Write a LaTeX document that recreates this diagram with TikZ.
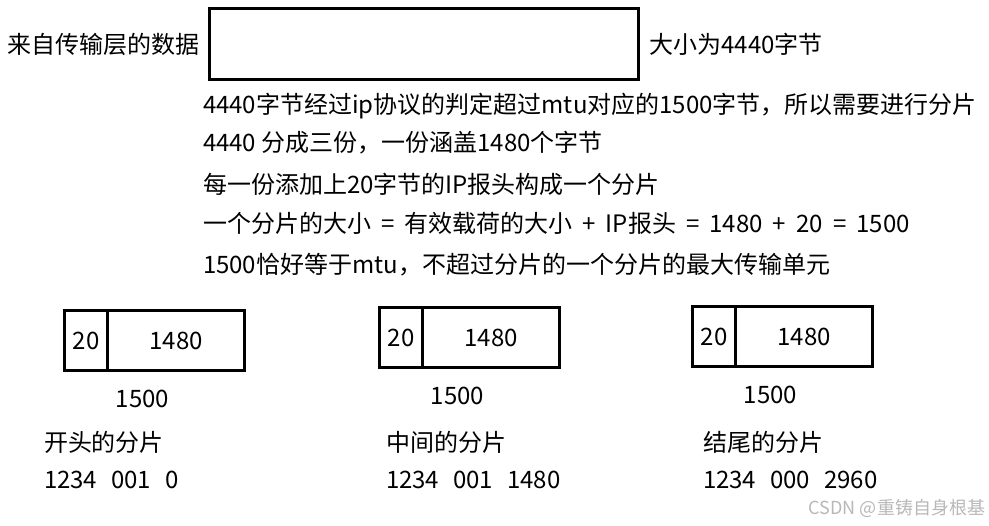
\documentclass[tikz,border=0pt]{standalone}
\usepackage{fontspec}
\setmainfont{Noto Sans CJK SC}
\usetikzlibrary{positioning}

\newcommand\gap{\hspace{14pt}}

\begin{document}
\begin{tikzpicture}[x=1pt, y=-1pt, line width=3pt, text=black,
  font=\fontsize{24}{28}\selectfont,
  every node/.style={inner sep=0pt, outer sep=0pt},
  field/.style={draw, rectangle, minimum height=60pt},
  hdr/.style={field, minimum width=43pt},
  payload/.style={field, minimum width=137pt},
  line/.style={anchor=west},
  watermark/.style={anchor=east, text=black!28, font=\fontsize{18}{20}\selectfont}]
  \useasboundingbox (0,0) rectangle (989,526);

  \node[draw, minimum width=429pt, minimum height=71pt, anchor=north west] (seg) at (209.5,8.5) {};
  \node[left=10pt of seg] (src) {来自传输层的数据};
  \node[right=11pt of seg] (size) {大小为4440字节};

  \node[line] (l1) at (203,106) {4440字节经过ip协议的判定超过mtu对应的1500字节，所以需要进行分片};
  \node[line] (l2) at (203,143) {4440 分成三份，一份涵盖1480个字节};
  \node[line] (l3) at (203,184) {每一份添加上20字节的IP报头构成一个分片};
  \node[line] (l4) at (203,223) {\spaceskip=0.42em一个分片的大小 = 有效载荷的大小 + IP报头 = 1480 + 20 = 1500};
  \node[line] (l5) at (203,265) {1500恰好等于mtu，不超过分片的一个分片的最大传输单元};

  \foreach \i/\x/\y/\lx/\name/\id in {
      1/64.5/310.5/44/开头的分片/{1234\gap001\gap0},
      2/379.5/307.5/386/中间的分片/{1234\gap001\gap1480},
      3/692.5/306.5/703/结尾的分片/{1234\gap000\gap2960}} {
    \node[hdr, anchor=north west] (h\i) at (\x,\y) {20};
    \node[payload, right=0pt of h\i] (p\i) {1480};
    \node (len\i) at (\x+78,\y+88) {1500};
    \node[line] (name\i) at (\lx,442) {\name};
    \node[line] (id\i) at (\lx,480) {\id};
  }

  \node[watermark] (csdn) at (985,508) {CSDN @重铸自身根基};
\end{tikzpicture}
\end{document}
